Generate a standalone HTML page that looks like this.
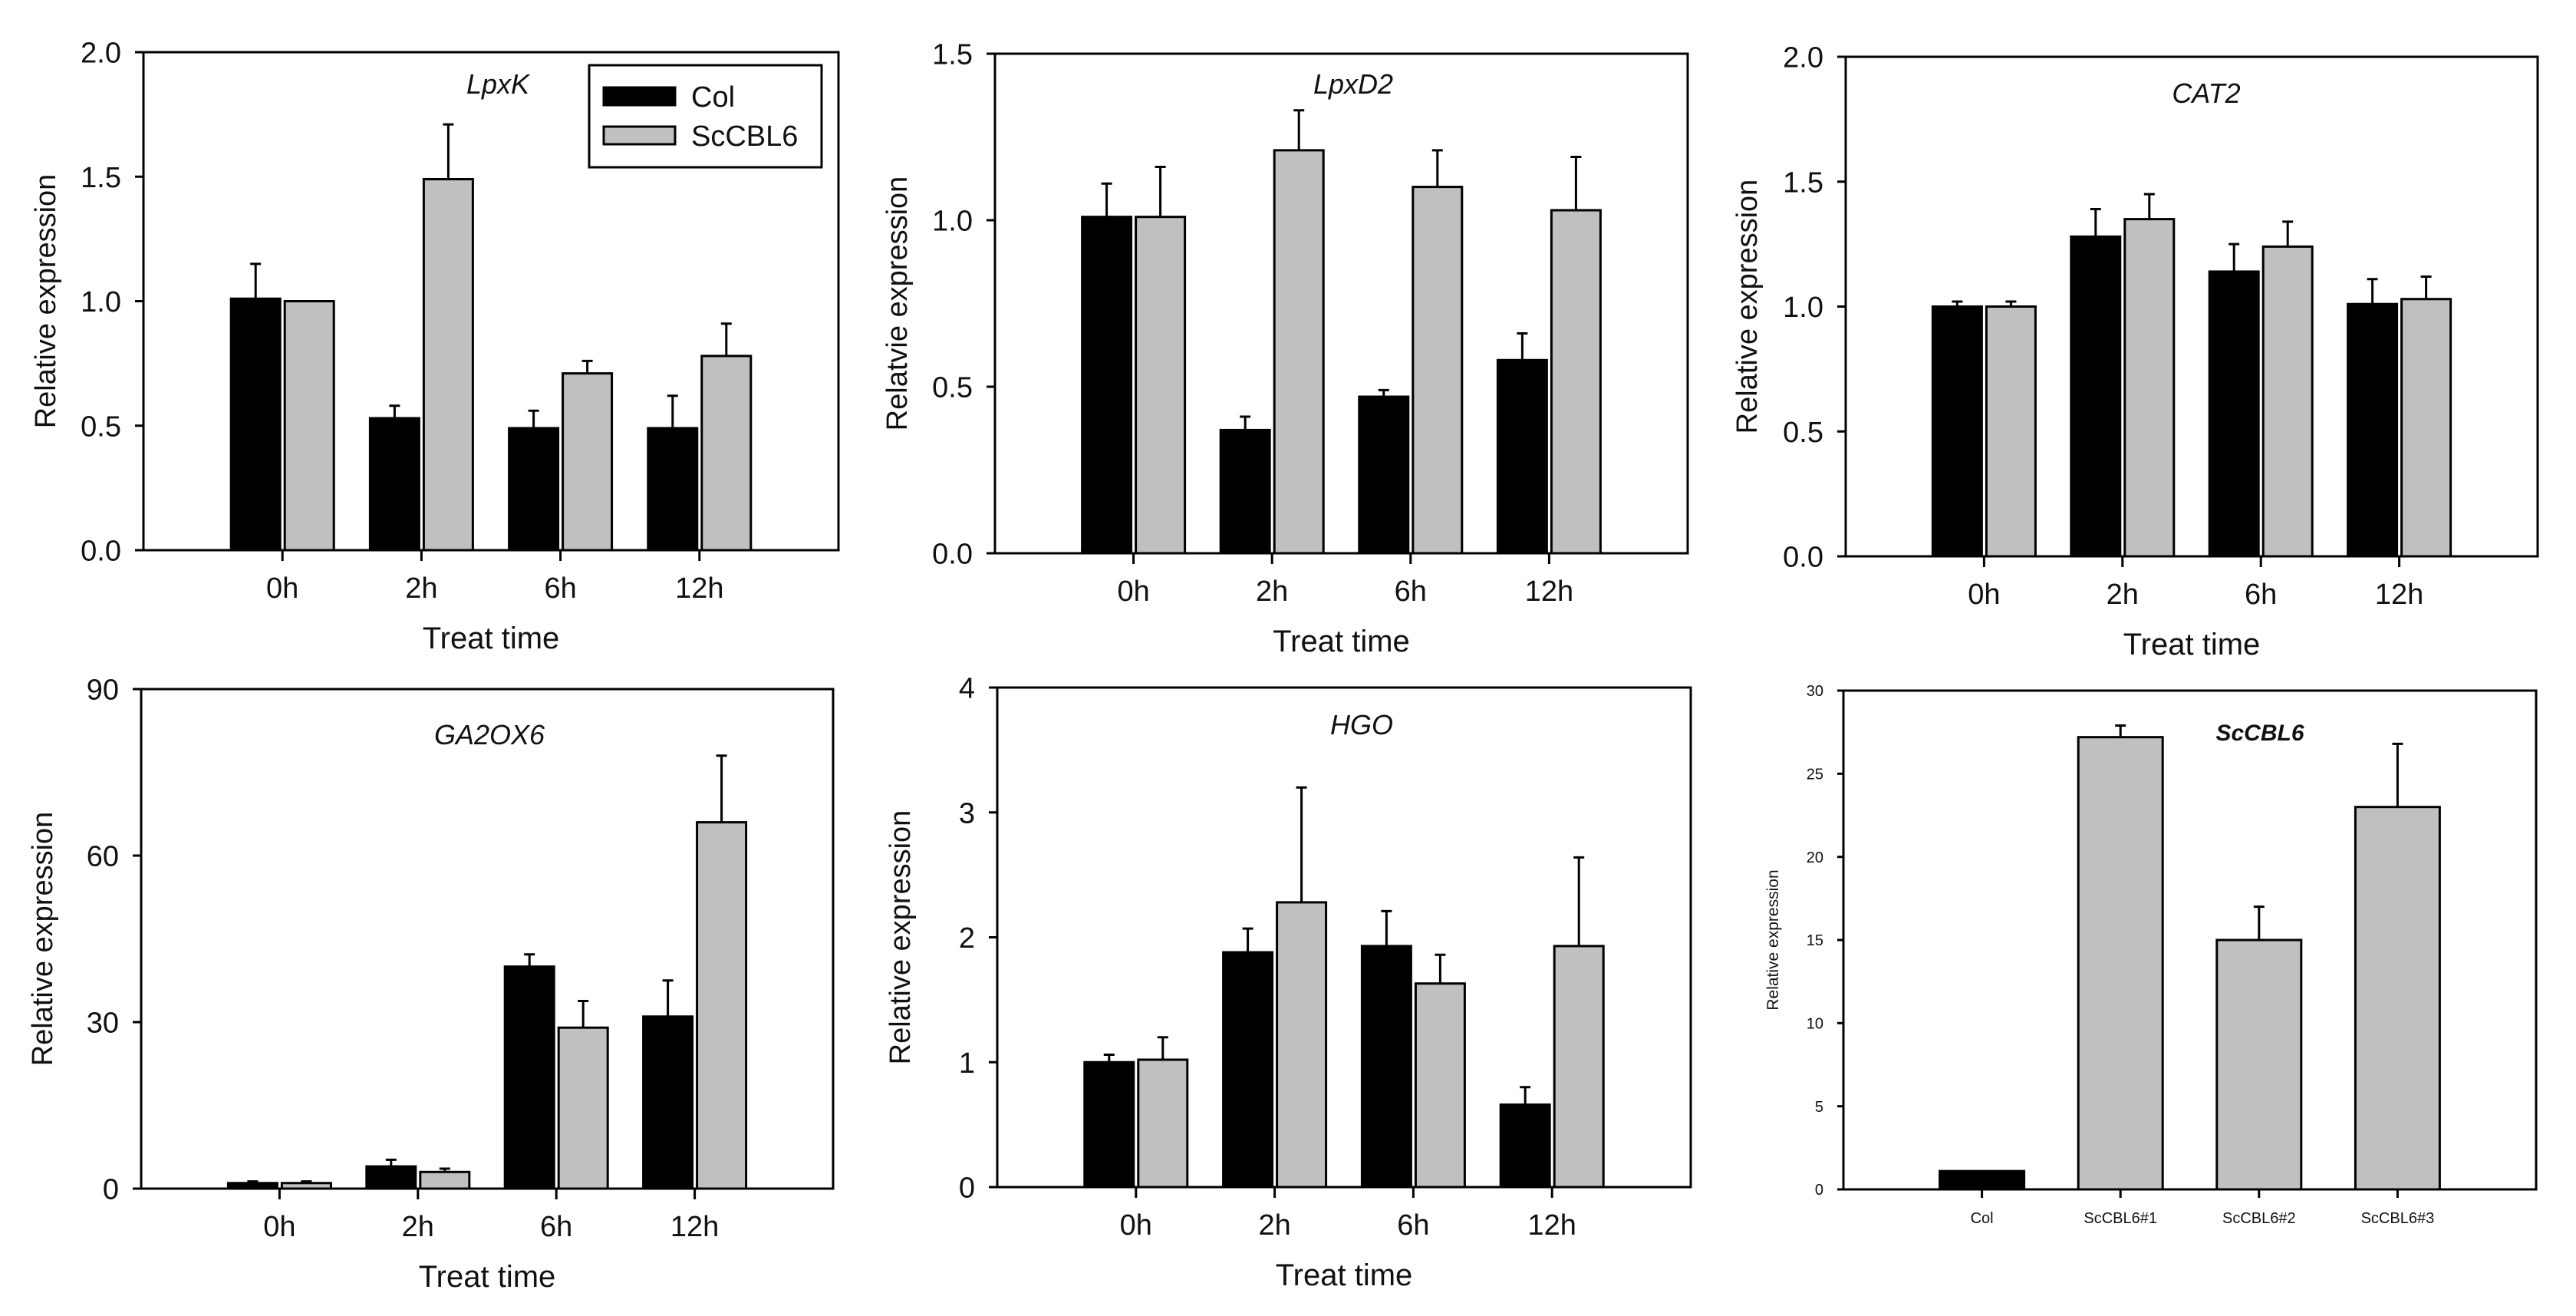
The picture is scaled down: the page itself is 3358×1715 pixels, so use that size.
<!DOCTYPE html>
<html><head><meta charset="utf-8"><style>
html,body{margin:0;padding:0;background:#fff;}
svg{display:block;font-family:"Liberation Sans",Arial,sans-serif;}
</style></head><body>
<svg id="fig" width="3358" height="1715" viewBox="0 0 3358 1715" xmlns="http://www.w3.org/2000/svg"></svg>
<script>
// ---- data ----
const timeCats = ["0h","2h","6h","12h"];
const lpxkCol = [1.01,0.53,0.49,0.49];
const lpxkColErr = [0.14,0.05,0.07,0.13];
const lpxkSc = [1.0,1.49,0.71,0.78];
const lpxkScErr = [0.0,0.22,0.05,0.13];
const lpxd2Col = [1.01,0.37,0.47,0.58];
const lpxd2ColErr = [0.10,0.04,0.02,0.08];
const lpxd2Sc = [1.01,1.21,1.10,1.03];
const lpxd2ScErr = [0.15,0.12,0.11,0.16];
const cat2Col = [1.0,1.28,1.14,1.01];
const cat2ColErr = [0.02,0.11,0.11,0.10];
const cat2Sc = [1.0,1.35,1.24,1.03];
const cat2ScErr = [0.02,0.10,0.10,0.09];
const ga2Col = [1,4,40,31];
const ga2ColErr = [0.3,1.2,2.2,6.5];
const ga2Sc = [1,3,29,66];
const ga2ScErr = [0.3,0.6,4.8,12];
const hgoCol = [1.0,1.88,1.93,0.66];
const hgoColErr = [0.06,0.19,0.28,0.14];
const hgoSc = [1.02,2.28,1.63,1.93];
const hgoScErr = [0.18,0.92,0.23,0.71];
const lineCats = ["Col","ScCBL6#1","ScCBL6#2","ScCBL6#3"];
const lineVals = [1.1,27.2,15.0,23.0];
const lineErr = [0,0.7,2.0,3.8];
const ticks1 = ["0.0","0.5","1.0","1.5","2.0"];
const ticks2 = ["0.0","0.5","1.0","1.5"];
const ticks4 = ["0","30","60","90"];
const ticks5 = ["0","1","2","3","4"];
const ticks6 = ["0","5","10","15","20","25","30"];

const NS="http://www.w3.org/2000/svg";
const svg=document.getElementById('fig');
function mk(tag,attrs,parent){const e=document.createElementNS(NS,tag);for(const k in attrs)e.setAttribute(k,attrs[k]);(parent||svg).appendChild(e);return e;}

function panel(o){
  const g=mk('g',{});
  
  
  const W=o.R-o.L, H=o.B-o.T;
  const y=v=>o.B-(v/o.ymax)*H;
  const step=W/(o.cats.length+1);
  const x=i=>o.L+step*(i+1);
  // bars
  o.series.forEach((s,si)=>{
    s.vals.forEach((v,i)=>{
      let bx;
      if(o.series.length===2) bx = si===0 ? x(i)-o.bw-3 : x(i)+3;
      else bx = x(i)-o.bw/2;
      const fill = s.fills ? s.fills[i] : s.fill;
      const r=mk('rect',{x:bx,y:y(v),width:o.bw,height:o.B-y(v),fill:fill,stroke:'#000','stroke-width':3},g);
      
      
      const e=s.err[i];
      if(e>0){
        const cx=bx+o.bw/2;
        const l=mk('path',{d:`M${cx},${y(v)}V${y(v+e)}M${cx-7},${y(v+e)}H${cx+7}`,stroke:'#000','stroke-width':3,fill:'none'},g);
        
        
      }
    });
  });
  // frame
  const f=mk('path',{d:`M${o.L},${o.T}H${o.R}V${o.B}H${o.L}Z`,fill:'none',stroke:'#000','stroke-width':3},g);
  
  
  // y ticks
  o.ticks.forEach((t,i)=>{
    const v=parseFloat(t);
    mk('line',{x1:o.L-o.tl,x2:o.L,y1:y(v),y2:y(v),stroke:'#000','stroke-width':3},g);
    const tx=mk('text',{x:o.L-o.tl-18,y:y(v)+o.tfs*0.36,'text-anchor':'end','font-size':o.tfs,fill:'#111'},g);
    tx.textContent=t;
    
    
  });
  // x ticks
  o.cats.forEach((c,i)=>{
    mk('line',{x1:x(i),x2:x(i),y1:o.B,y2:o.B+o.tl+3,stroke:'#000','stroke-width':3},g);
    const tx=mk('text',{x:x(i),y:o.B+o.xly,'text-anchor':'middle','font-size':o.xfs,fill:'#111'},g);
    tx.textContent=c;
    
    
  });
  if(o.xtitle){
    const xt=mk('text',{x:(o.L+o.R)/2,y:o.B+128,'text-anchor':'middle','font-size':40,fill:'#111'},g);
    xt.textContent=o.xtitle;
    
    
  }
  const yc=(o.T+o.B)/2;
  const yt=mk('text',{x:o.ylx,y:yc,'text-anchor':'middle','font-size':o.yfs,fill:'#111',transform:`rotate(-90 ${o.ylx} ${yc})`},g);
  yt.textContent=o.ytitle;
  
  
  const tt=mk('text',{x:o.tx,y:o.ty,'text-anchor':'middle','font-size':o.tfs2||36,'font-style':'italic','font-weight':o.tbold?'bold':'normal',fill:'#111'},g);
  tt.textContent=o.title;
  
  
  return g;
}
const base={tl:11,tfs:38,xfs:38,xly:62,yfs:38,bw:64,xtitle:'Treat time',ytitle:'Relative expression'};
panel(Object.assign({},base,{name:'chart-lpxk',L:187,R:1093,T:68,B:717,ymax:2,ticks:ticks1,cats:timeCats,ylx:72,tx:649,ty:122,title:'LpxK',
  series:[{key:'col',vals:lpxkCol,err:lpxkColErr,fill:'#000'},{key:'sccbl6',vals:lpxkSc,err:lpxkScErr,fill:'#c0c0c0'}]}));
panel(Object.assign({},base,{name:'chart-lpxd2',L:1297,R:2200,T:70,B:721,ymax:1.5,ticks:ticks2,cats:timeCats,ylx:1182,tx:1764,ty:122,title:'LpxD2',ytitle:'Relatvie expression',
  series:[{key:'col',vals:lpxd2Col,err:lpxd2ColErr,fill:'#000'},{key:'sccbl6',vals:lpxd2Sc,err:lpxd2ScErr,fill:'#c0c0c0'}]}));
panel(Object.assign({},base,{name:'chart-cat2',L:2406,R:3308,T:74,B:725,ymax:2,ticks:ticks1,cats:timeCats,ylx:2290,tx:2876,ty:134,title:'CAT2',
  series:[{key:'col',vals:cat2Col,err:cat2ColErr,fill:'#000'},{key:'sccbl6',vals:cat2Sc,err:cat2ScErr,fill:'#c0c0c0'}]}));
panel(Object.assign({},base,{name:'chart-ga2ox6',L:184,R:1086,T:898,B:1549,ymax:90,ticks:ticks4,cats:timeCats,ylx:68,tx:638,ty:970,title:'GA2OX6',
  series:[{key:'col',vals:ga2Col,err:ga2ColErr,fill:'#000'},{key:'sccbl6',vals:ga2Sc,err:ga2ScErr,fill:'#c0c0c0'}]}));
panel(Object.assign({},base,{name:'chart-hgo',L:1300,R:2204,T:896,B:1547,ymax:4,ticks:ticks5,cats:timeCats,ylx:1186,tx:1775,ty:957,title:'HGO',
  series:[{key:'col',vals:hgoCol,err:hgoColErr,fill:'#000'},{key:'sccbl6',vals:hgoSc,err:hgoScErr,fill:'#c0c0c0'}]}));
panel({name:'chart-sccbl6-lines',L:2403,R:3306,T:900,B:1550,ymax:30,ticks:ticks6,cats:lineCats,tl:8,tfs:20,xfs:20,xly:44,yfs:21,bw:110,ylx:2318,tx:2946,ty:965,title:'ScCBL6',tbold:true,tfs2:30,ytitle:'Relative expression',
  series:[{key:'line',vals:lineVals,err:lineErr,fills:['#000','#c0c0c0','#c0c0c0','#c0c0c0']}]});

// legend
const lg=mk('g',{});


mk('rect',{x:768,y:85,width:303,height:133,fill:'#fff',stroke:'#000','stroke-width':3},lg);
const s1=mk('rect',{x:787,y:114,width:93,height:23,fill:'#000',stroke:'#000','stroke-width':3},lg);


const s2=mk('rect',{x:787,y:165,width:93,height:23,fill:'#c0c0c0',stroke:'#000','stroke-width':3},lg);


const l1=mk('text',{x:901,y:139,'font-size':38,fill:'#111'},lg);l1.textContent='Col';


const l2=mk('text',{x:901,y:190,'font-size':38,fill:'#111'},lg);l2.textContent='ScCBL6';


</script>
</body></html>
